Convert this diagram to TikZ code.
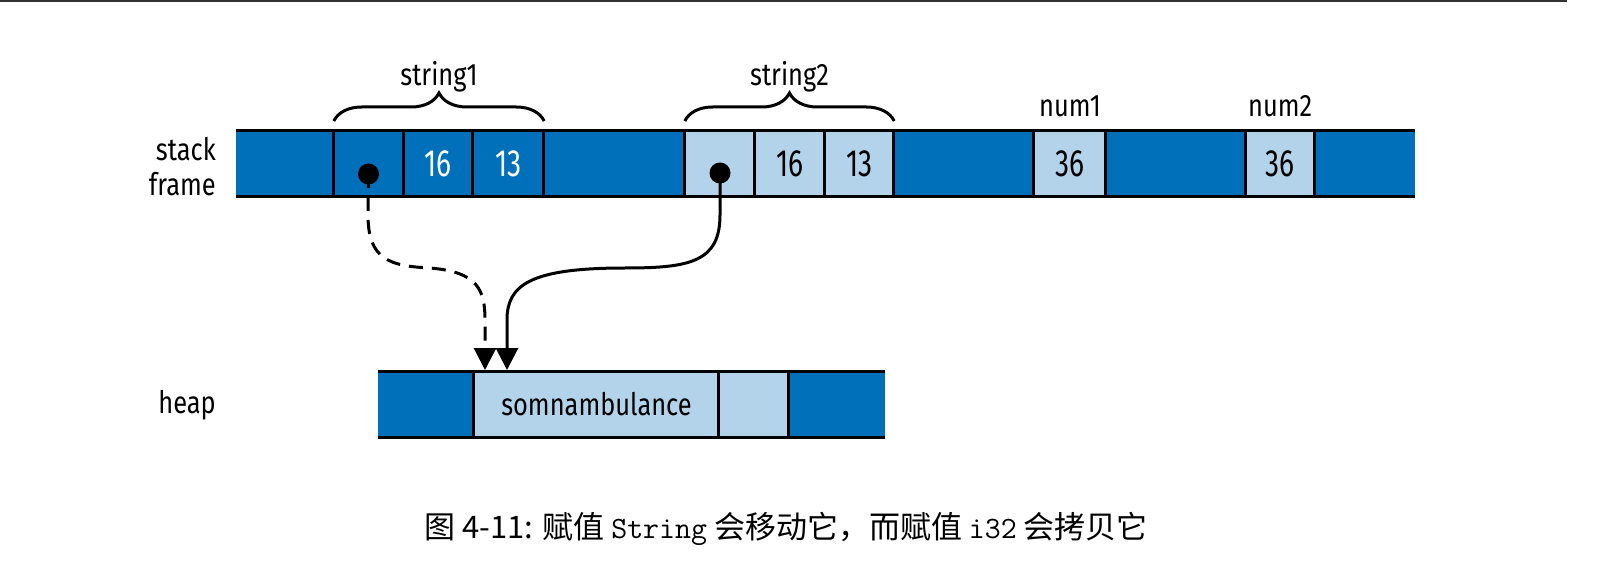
\documentclass[tikz,border=0pt]{standalone}
\usepackage{fontspec}
\setmainfont{Fira Sans}[FakeStretch=0.82]
\newfontfamily\numfont{Fira Sans}[FakeStretch=0.74]
\newfontfamily\cjk{Noto Sans CJK SC}
\usetikzlibrary{decorations.pathreplacing,arrows.meta}
\definecolor{dblue}{RGB}{0,112,186}
\definecolor{lblue}{RGB}{178,211,234}
\tikzset{
  cell/.style={rectangle,inner sep=0pt,minimum height=65pt,fill=#1,draw=none},
  dcell/.style={cell=dblue,text=white,font=\numfont\fontsize{38}{42}\selectfont},
  lcell/.style={cell=lblue,text=black,font=\numfont\fontsize{38}{42}\selectfont},
  barline/.style={line width=3.3pt,black},
  lbl/.style={font=\fontsize{31}{36}\selectfont,inner sep=0pt},
  rowlbl/.style={font=\fontsize{31}{36}\selectfont,inner sep=0pt,anchor=east,align=right},
  bracestyle/.style={decorate,decoration={brace,amplitude=28pt},line width=3pt},
  dotstyle/.style={circle,fill=black,inner sep=0pt,minimum size=21pt},
  ptr/.style={line width=3pt,-{Triangle[length=22pt,width=22pt]}},
}
\begin{document}
\begin{tikzpicture}[x=1pt,y=-1pt]
\useasboundingbox (0,0) rectangle (1610,572);
\draw[line width=2pt,black!80] (0,1) -- (1567,1);
% stack frame cells
\node[dcell,minimum width=98pt]   (c1)  at (285,163.5) {};
\node[dcell,minimum width=69.5pt] (c2)  at (368.75,163.5) {};
\node[dcell,minimum width=69.5pt] (c3)  at (438.25,163.5) {16};
\node[dcell,minimum width=71pt]   (c4)  at (508.5,163.5) {13};
\node[dcell,minimum width=141pt]  (c5)  at (614.5,163.5) {};
\node[lcell,minimum width=70pt]   (c6)  at (720,163.5) {};
\node[lcell,minimum width=69.5pt] (c7)  at (789.75,163.5) {16};
\node[lcell,minimum width=69.5pt] (c8)  at (859.25,163.5) {13};
\node[dcell,minimum width=140pt]  (c9)  at (964,163.5) {};
\node[lcell,minimum width=72pt]   (c10) at (1070,163.5) {36};
\node[dcell,minimum width=139.5pt] (c11) at (1175.75,163.5) {};
\node[lcell,minimum width=69.5pt] (c12) at (1280.25,163.5) {36};
\node[dcell,minimum width=100pt]  (c13) at (1365,163.5) {};
\draw[barline] (c1.north west) -- (c13.north east);
\draw[barline] (c1.south west) -- (c13.south east);
\foreach \c in {c2,c3,c4,c5,c6,c7,c8,c9,c10,c11,c12,c13}
  \draw[barline] (\c.north west) -- (\c.south west);
% heap cells
\node[dcell,minimum width=96pt]   (h1) at (426,404.5) {};
\node[lcell,minimum width=245pt,font=\fontsize{31}{36}\selectfont] (h2) at (596.5,404.5) {somnambulance};
\node[lcell,minimum width=69.5pt] (h3) at (753.75,404.5) {};
\node[dcell,minimum width=96.5pt] (h4) at (836.75,404.5) {};
\draw[barline] (h1.north west) -- (h4.north east);
\draw[barline] (h1.south west) -- (h4.south east);
\foreach \c in {h2,h3,h4}
  \draw[barline] (\c.north west) -- (\c.south west);
% labels
\node[rowlbl] (lstack) at (216,149) {stack};
\node[rowlbl] (lframe) at (216,184) {frame};
\node[rowlbl] (lheap) at (216,405) {heap};
\node[lbl] (s1) at (439,77) {string1};
\node[lbl] (s2) at (789.5,77) {string2};
\node[lbl] (n1) at (1070,106) {num1};
\node[lbl] (n2) at (1280.25,106) {num2};
% braces
\draw[bracestyle] (c2.west |- 0,121) -- (c4.east |- 0,121);
\draw[bracestyle] (c6.west |- 0,121) -- (c8.east |- 0,121);
% pointers
\node[dotstyle] (d1) at (368.5,174) {};
\node[dotstyle] (d2) at (720,173) {};
\coordinate (t1) at (485,370);
\coordinate (t2) at (507,370);
\draw[ptr,dash pattern=on 14pt off 9pt] (d1.center) -- (368,215) .. controls (368,260) and (390,266) .. (430,268) .. controls (478,272) and (485,290) .. (485,320) -- (t1);
\draw[ptr] (d2.center) -- (720,215) .. controls (720,262) and (690,268) .. (625,268) .. controls (530,268) and (507,285) .. (507,320) -- (t2);
% caption
\node[inner sep=0pt,font=\cjk\fontsize{31}{35}\selectfont] (cap) at (786,529) {图 4-11: 赋值 {\ttfamily String} 会移动它，而赋值 {\ttfamily i32} 会拷贝它};
\end{tikzpicture}
\end{document}
